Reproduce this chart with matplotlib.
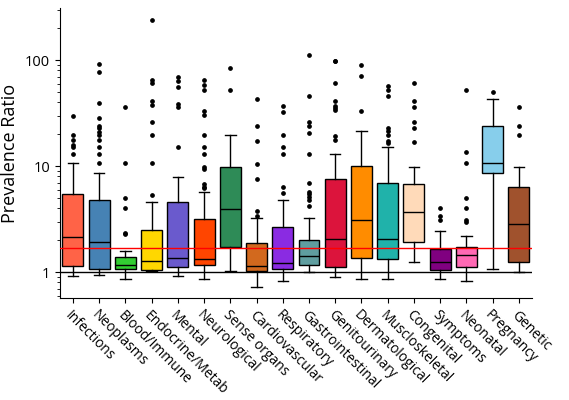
import matplotlib
matplotlib.use('Agg')
import matplotlib.pyplot as plt

plt.rcParams['font.family'] = ['Open Sans', 'DejaVu Sans']

categories = ['Infections', 'Neoplasms', 'Blood/Immune', 'Endocrine/Metab', 'Mental',
              'Neurological', 'Sense organs', 'Cardiovascular', 'Respiratory',
              'Gastrointestinal', 'Genitourinary', 'Dermatological', 'Muscloskeletal',
              'Congenital', 'Symptoms', 'Neonatal', 'Pregnancy', 'Genetic']

colors = ['#FF6347', '#4682B4', '#32CD32', '#FFD700', '#6A5ACD', '#FF4500', '#2E8B57',
          '#D2691E', '#8A2BE2', '#5F9EA0', '#DC143C', '#FF8C00', '#20B2AA', '#FFDAB9',
          '#800080', '#FF69B4', '#87CEEB', '#A0522D']

# box statistics
whislo = [0.91, 0.94, 0.87, 1.03, 0.92, 0.865, 1.02, 0.73, 0.83, 1.0, 0.90, 0.865, 0.865, 1.25, 0.87, 0.83, 1.07, 1.0]
q1 = [1.14, 1.07, 1.07, 1.04, 1.11, 1.16, 1.71, 1.02, 1.07, 1.16, 1.11, 1.37, 1.33, 1.93, 1.04, 1.12, 8.6, 1.24]
med = [2.15, 1.93, 1.16, 1.27, 1.36, 1.32, 3.9, 1.13, 1.21, 1.42, 2.06, 3.1, 2.05, 3.7, 1.25, 1.45, 10.7, 2.84]
q3 = [5.5, 4.8, 1.40, 2.49, 4.54, 3.16, 9.86, 1.89, 2.66, 2.0, 7.6, 10.1, 6.9, 6.8, 1.67, 1.73, 23.7, 6.4]
whishi = [10.7, 8.65, 1.58, 4.58, 7.93, 5.73, 19.5, 3.21, 4.78, 3.26, 12.9, 21.5, 15.2, 9.8, 2.44, 2.2, 43.2, 9.8]

outliers = [
    [30, 19.5, 17.7, 15.7, 15, 12.9],
    [91, 77.6, 39, 28.2, 24, 22.7, 20.8, 19.5, 17.8, 15.1, 12.9, 10.7],
    [36, 10.7, 5.0, 4.0, 2.35, 2.3],
    [237, 65, 60.7, 41.3, 37.6, 25.8, 19.5, 10.7, 5.3],
    [69.6, 62.9, 56, 38.4, 36.3, 15.1],
    [64.8, 58.5, 51.8, 32.8, 30.3, 19.5, 15.1, 12.9, 9.8, 9.4, 6.8, 6.4, 6.2],
    [84, 52],
    [43, 23.7, 17.3, 10.4, 7.5, 3.8, 3.4],
    [36.5, 32.6, 19.5, 15.1, 12.9, 6.3, 5.6],
    [111, 45.4, 26.2, 24, 20.5, 13, 7.0, 5.65, 5.4, 5.1, 4.8, 4.2],
    [98.6, 98, 60.3, 41.3, 37, 35.2, 34, 19.3, 17.8],
    [89, 71, 32.8],
    [56.4, 52.5, 45.4, 22.7, 21.5, 19.5, 17.3, 16.4],
    [60.3, 41.3, 36, 25.8, 22.7, 16.7],
    [4.04, 3.38, 3.07],
    [52, 13.5, 10.6, 5.0, 4.0, 3.07, 2.96],
    [49.5],
    [36, 23.7, 19.5],
]

overall_median = 1.68

stats = []
for i, name in enumerate(categories):
    stats.append({'label': name, 'whislo': whislo[i], 'q1': q1[i], 'med': med[i],
                  'q3': q3[i], 'whishi': whishi[i], 'fliers': outliers[i]})

fig = plt.figure(figsize=(5.69, 4.0), dpi=100)
ax = fig.add_axes([0.105, 0.255, 0.83, 0.725])

bp = ax.bxp(stats, positions=range(len(categories)), widths=0.8, capwidths=0.4,
            patch_artist=True,
            boxprops=dict(edgecolor='black', linewidth=1.0),
            medianprops=dict(color='black', linewidth=1.0),
            whiskerprops=dict(color='black', linewidth=1.0),
            capprops=dict(color='black', linewidth=1.0),
            flierprops=dict(marker='o', markerfacecolor='black', markeredgecolor='black',
                            markersize=2.4, linestyle='none'))
for patch, c in zip(bp['boxes'], colors):
    patch.set_facecolor(c)

ax.axhline(1, color='black', linewidth=1.0, zorder=3)
ax.axhline(overall_median, color='red', linewidth=1.0, zorder=3)

ax.set_yscale('log')
ax.set_ylim(0.57, 310)
ax.set_xlim(-0.5, 17.5)
ax.set_yticks([1, 10, 100])
ax.set_yticklabels(['1', '10', '100'], fontsize=10.5)
ax.set_xticks(range(len(categories)))
ax.set_xticklabels(categories, rotation=-45, ha='left', rotation_mode='anchor', fontsize=10)
ax.set_ylabel('Prevalence Ratio', fontsize=13)

ax.spines['top'].set_visible(False)
ax.spines['right'].set_visible(False)

plt.savefig('out.png', dpi=100)
